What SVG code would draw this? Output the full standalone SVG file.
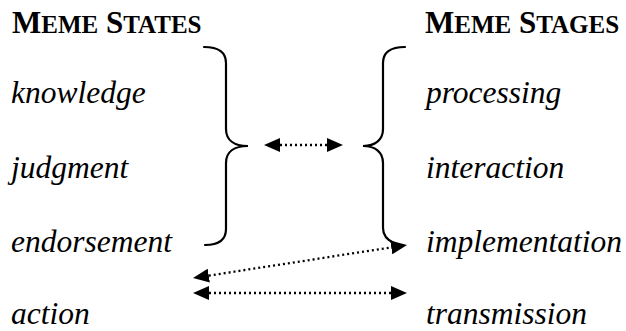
<svg xmlns="http://www.w3.org/2000/svg" width="626" height="331" viewBox="0 0 626 331">
  <style>
    .title { font-family: "Liberation Serif", "Times New Roman", serif; font-weight: bold; font-size: 31px; fill: #000; }
    .sc { font-size: 25px; }
    .item { font-family: "Liberation Serif", "Times New Roman", serif; font-style: italic; font-size: 31.5px; fill: #000; }
    .brace { fill: none; stroke: #000; stroke-width: 2.2; stroke-linecap: round; }
    .dots { fill: none; stroke: #000; stroke-width: 2.3; stroke-dasharray: 2 3; marker-start: url(#head); marker-end: url(#head); }
  </style>
  <defs>
    <marker id="head" markerUnits="userSpaceOnUse" viewBox="0 0 16 14" refX="0" refY="7" markerWidth="16" markerHeight="14" orient="auto-start-reverse">
      <path d="M0,0 L16,7 L0,14 z" fill="#000"/>
    </marker>
  </defs>

  <rect width="626" height="331" fill="#fff"/>

  <!-- column headings -->
  <g id="states-title">
    <text class="title" x="12" y="33">M<tspan class="sc">EME</tspan> S<tspan class="sc">TATES</tspan></text>
  </g>
  <g id="stages-title">
    <text class="title" x="425" y="33">M<tspan class="sc">EME</tspan> S<tspan class="sc">TAGES</tspan></text>
  </g>

  <!-- meme states -->
  <g id="knowledge"><text class="item" x="11" y="103">knowledge</text></g>
  <g id="judgment"><text class="item" x="11" y="178">judgment</text></g>
  <g id="endorsement"><text class="item" x="11" y="252">endorsement</text></g>
  <g id="action"><text class="item" x="11" y="324">action</text></g>

  <!-- meme stages -->
  <g id="processing"><text class="item" x="426" y="103">processing</text></g>
  <g id="interaction"><text class="item" x="426" y="178">interaction</text></g>
  <g id="implementation"><text class="item" x="426" y="252">implementation</text></g>
  <g id="transmission"><text class="item" x="426" y="324">transmission</text></g>

  <!-- braces grouping the first three entries of each column -->
  <g id="braces">
    <path class="brace" d="M204,47 C218,47 226,52 226,63 L226,129 C226,140 234,146 248,146 C234,146 226,152 226,163 L226,229 C226,240 218,245 205,245"/>
    <path class="brace" d="M405,47 C391,47 383,52 383,63 L383,129 C383,140 375,146 363,146 C375,146 383,152 383,163 L383,228 C383,236 387,240 394,243"/>
  </g>

  <!-- dotted two-way connectors -->
  <g id="connectors">
    <line class="dots" x1="280" y1="145" x2="327" y2="145"/>
    <line class="dots" x1="208.8" y1="275.6" x2="391.2" y2="247.4"/>
    <line class="dots" x1="209" y1="293" x2="391" y2="293"/>
  </g>
</svg>
